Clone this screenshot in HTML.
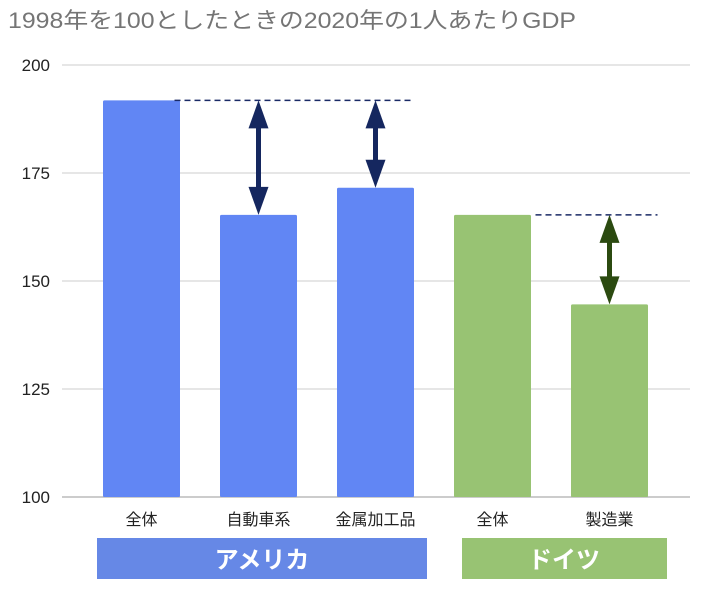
<!DOCTYPE html>
<html><head><meta charset="utf-8"><style>
body{margin:0;background:#fff;width:709px;height:591px;overflow:hidden}
text{font-family:"Liberation Sans","Noto Sans CJK JP",sans-serif}
</style></head><body>
<svg id="chart" width="709" height="591">
<text x="8" y="28" font-size="22" textLength="568" lengthAdjust="spacingAndGlyphs" fill="#757575">1998年を100としたときの2020年の1人あたりGDP</text>
<g id="grid"></g><g id="bars"></g><g id="ann"></g>
<rect x="97" y="538" width="330" height="41" fill="#6688e6"/>
<text x="262" y="568" font-size="24" font-weight="bold" fill="#fff" text-anchor="middle">アメリカ</text>
<rect x="462" y="538" width="205" height="41" fill="#98c373"/>
<text x="564" y="568" font-size="24" font-weight="bold" fill="#fff" text-anchor="middle">ドイツ</text>
</svg>
<script>
const categories=["全体","自動車系","金属加工品","全体","製造業"];
const values=[191.8,165.3,171.6,165.3,144.6];
const colors=["#6186f4","#6186f4","#6186f4","#98c373","#98c373"];
const ticks=[100,125,150,175,200];
const NS="http://www.w3.org/2000/svg";
const y=v=>497-(v-100)*4.32;
const xc=i=>141.5+i*117;
function mk(t,a,p){const e=document.createElementNS(NS,t);for(const k in a)e.setAttribute(k,a[k]);document.getElementById(p).appendChild(e);return e;}
ticks.forEach(t=>{
 const l=mk("line",{x1:62,x2:690,y1:y(t),y2:y(t),stroke:t===100?"#999":"#ccc","stroke-width":1},"grid");
 
 
 const tx=mk("text",{x:50,y:y(t)+6,"font-size":17,fill:"#222","text-anchor":"end"},"grid");
 tx.textContent=t;
 
 
});
categories.forEach((c,i)=>{
 const r=mk("rect",{x:xc(i)-38.5,y:y(values[i]),width:77,height:497-y(values[i]),fill:colors[i],rx:1.5},"bars");
 
 
 const t=mk("text",{x:xc(i),y:525,"font-size":16,fill:"#222","text-anchor":"middle"},"bars");
 t.textContent=c;
 
 
});
function dash(x1,x2,v,col){
 const d=mk("line",{x1:x1,x2:x2,y1:y(v),y2:y(v),stroke:col,"stroke-width":1.5,"stroke-dasharray":"6,4"},"ann");
 
 
}
function arrow(i,a,b,col){
 const x=xc(i),ya=y(a),yb=y(b);
 const s=mk("line",{x1:x,x2:x,y1:ya+20,y2:yb-20,stroke:col,"stroke-width":5},"ann");
 
 
 const h1=mk("polygon",{points:`${x},${ya} ${x-10},${ya+28} ${x+10},${ya+28}`,fill:col},"ann");
 
 
 const h2=mk("polygon",{points:`${x},${yb} ${x-10},${yb-28} ${x+10},${yb-28}`,fill:col},"ann");
 
 
}
dash(xc(0)+33,xc(2)+37,values[0],"#1a2a66");
arrow(1,values[0],values[1],"#15275f");
arrow(2,values[0],values[2],"#15275f");
dash(xc(3)+43,xc(4)+48,values[3],"#1a2a66");
arrow(4,values[3],values[4],"#2b4a10");
</script>
</body></html>
